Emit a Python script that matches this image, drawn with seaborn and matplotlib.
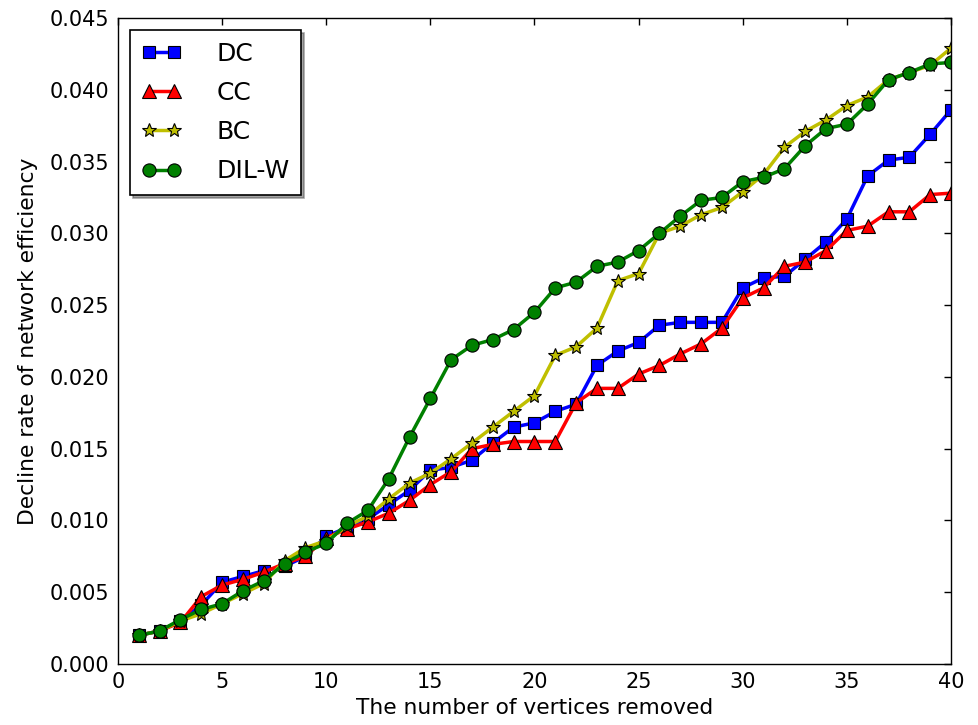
import matplotlib
matplotlib.use("Agg")
import matplotlib.pyplot as plt
import seaborn as sns
import numpy as np
import pandas as pd

# Number of vertices removed
vertices = list(range(1, 41))

# Decline rate of network efficiency per removal strategy
dc = [0.0020, 0.0023, 0.0030, 0.0041, 0.0057, 0.0061, 0.0065, 0.0068, 0.0075, 0.0089,
      0.0095, 0.0101, 0.0111, 0.0121, 0.0135, 0.0137, 0.0142, 0.0154, 0.0165, 0.0168,
      0.0176, 0.0181, 0.0208, 0.0218, 0.0224, 0.0236, 0.0238, 0.0238, 0.0238, 0.0262,
      0.0269, 0.0270, 0.0282, 0.0294, 0.0310, 0.0340, 0.0351, 0.0353, 0.0369, 0.0386]

cc = [0.0020, 0.0023, 0.0029, 0.0047, 0.0055, 0.0059, 0.0064, 0.0070, 0.0075, 0.0088,
      0.0094, 0.0099, 0.0105, 0.0114, 0.0125, 0.0134, 0.0150, 0.0153, 0.0155, 0.0155,
      0.0155, 0.0182, 0.0192, 0.0192, 0.0202, 0.0208, 0.0216, 0.0223, 0.0234, 0.0255,
      0.0262, 0.0277, 0.0280, 0.0288, 0.0302, 0.0305, 0.0315, 0.0315, 0.0327, 0.0328]

bc = [0.0020, 0.0023, 0.0030, 0.0035, 0.0042, 0.0049, 0.0056, 0.0072, 0.0081, 0.0086,
      0.0096, 0.0103, 0.0115, 0.0126, 0.0133, 0.0143, 0.0154, 0.0165, 0.0176, 0.0187,
      0.0215, 0.0221, 0.0234, 0.0267, 0.0272, 0.0300, 0.0305, 0.0313, 0.0318, 0.0329,
      0.0341, 0.0360, 0.0371, 0.0379, 0.0389, 0.0395, 0.0407, 0.0412, 0.0417, 0.0429]

dil_w = [0.0020, 0.0023, 0.0031, 0.0038, 0.0042, 0.0051, 0.0058, 0.0070, 0.0078, 0.0084,
         0.0098, 0.0107, 0.0129, 0.0158, 0.0185, 0.0212, 0.0222, 0.0226, 0.0233, 0.0245,
         0.0262, 0.0266, 0.0277, 0.0280, 0.0288, 0.0300, 0.0312, 0.0323, 0.0325, 0.0336,
         0.0339, 0.0345, 0.0361, 0.0373, 0.0376, 0.0390, 0.0407, 0.0412, 0.0418, 0.0419]

series_names = ["DC", "CC", "BC", "DIL-W"]

sns.set_style("white")
plt.rcParams["font.family"] = ["DejaVu Sans"]
plt.rcParams.update({
    "xtick.direction": "in",
    "ytick.direction": "in",
    "xtick.top": True,
    "ytick.right": True,
    "xtick.major.size": 5,
    "ytick.major.size": 5,
    "xtick.major.width": 1,
    "ytick.major.width": 1,
    "axes.edgecolor": "black",
    "axes.labelcolor": "black",
    "text.color": "black",
    "axes.linewidth": 1.0,
})

fig = plt.figure(figsize=(9.79, 7.25), dpi=100)
ax = fig.add_axes([0.1205, 0.0841, 0.8509, 0.8911])

styles = {
    "DC": dict(color="#0000ff", marker="s", markersize=8.5),
    "CC": dict(color="#ff0000", marker="^", markersize=9.5),
    "BC": dict(color="#bfbf00", marker="*", markersize=10),
    "DIL-W": dict(color="#008000", marker="o", markersize=9.5),
}

for name, values in zip(series_names, [dc, cc, bc, dil_w]):
    df = pd.DataFrame({"x": vertices, "y": values})
    st = styles[name]
    sns.lineplot(data=df, x="x", y="y", ax=ax, label=name,
                 color=st["color"], marker=st["marker"], markersize=st["markersize"],
                 markeredgecolor="black", markeredgewidth=0.8, linewidth=2.5)

ax.set_xlim(0, 40)
ax.set_ylim(0, 0.045)
ax.set_xticks(np.arange(0, 41, 5))
ax.set_yticks(np.arange(0, 0.0451, 0.005))
ax.yaxis.set_major_formatter(matplotlib.ticker.FormatStrFormatter("%.3f"))
ax.tick_params(axis="both", labelsize=15, colors="black", pad=6)
ax.set_xlabel("The number of vertices removed", fontsize=15.7, labelpad=4)
ax.set_ylabel("Decline rate of network efficiency", fontsize=15.7, labelpad=9)

leg = ax.legend(loc="upper left", fontsize=18, numpoints=2, handlelength=1.6,
                shadow=True, fancybox=False, frameon=True, borderaxespad=0.5,
                labelspacing=0.61, handletextpad=1.4, borderpad=0.45)
leg.get_frame().set_edgecolor("black")
leg.get_frame().set_linewidth(1.2)
leg.get_frame().set_alpha(1.0)

fig.savefig("out.png", dpi=100)
